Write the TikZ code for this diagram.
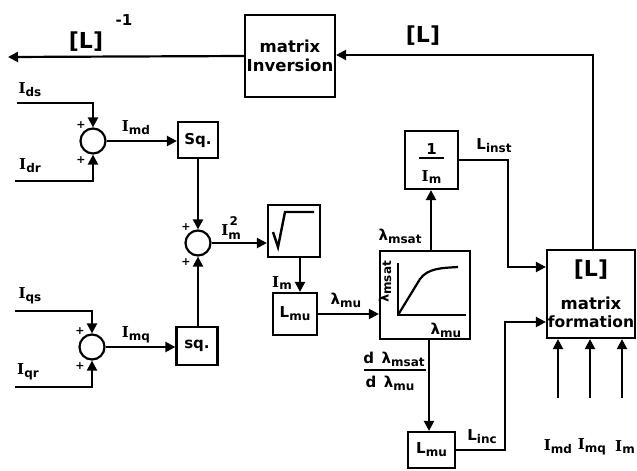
\documentclass[tikz,border=0pt]{standalone}
\usepackage{fontspec}
\setmainfont{DejaVu Sans}
\newfontfamily\serf{DejaVu Serif}
\usetikzlibrary{arrows.meta}
\newcommand\Ic{{\serf\bfseries I}}
\newcommand\sbx[1]{\raisebox{-0.35ex}{\fontsize{12}{12}\selectfont #1}}
\begin{document}
\begin{tikzpicture}[x=1pt,y=-1pt,
  line width=2.2pt,
  blk/.style={draw, line width=2.2pt, rectangle, inner sep=0pt},
  sumc/.style={draw, line width=2.2pt, circle, inner sep=0pt, minimum size=25pt},
  arr/.style={-{Triangle[length=10pt,width=10pt]}},
  lbl/.style={font=\bfseries\fontsize{15}{16}\selectfont, inner sep=0pt},
  big/.style={font=\bfseries\fontsize{22}{24}\selectfont, inner sep=0pt},
  mtx/.style={font=\bfseries\fontsize{16.5}{17}\selectfont, inner sep=0pt},
  pls/.style={font=\bfseries\fontsize{11}{11}\selectfont, inner sep=0pt}]
\useasboundingbox (0,0) rectangle (637,471);

% blocks
\node[blk, minimum width=90pt, minimum height=82pt, align=center, mtx] (inv) at (290,56) {matrix\\[2pt]Inversion};
\node[blk, minimum width=88pt, minimum height=88pt] (form) at (591,294) {};
\node[big] (formL) at (591,270) {[L]};
\node[mtx] (formm) at (591,303) {matrix};
\node[mtx, font=\bfseries\fontsize{15.5}{16}\selectfont] (formf) at (591,322) {formation};
\node[blk, minimum width=40pt, minimum height=36pt, lbl] (sq1) at (198,140) {Sq.};
\node[blk, minimum width=41pt, minimum height=38pt, lbl] (sq2) at (197,346) {sq.};
\node[blk, minimum width=52pt, minimum height=52pt] (sqrt) at (294,231) {};
\draw[line width=2.4pt, line join=miter] (273,232) -- (278,247) -- (285,212) -- (314,212);
\node[blk, minimum width=44pt, minimum height=42pt, lbl] (lmu1) at (295,314) {L\sbx{mu}};
\node[blk, minimum width=90pt, minimum height=88pt] (sat) at (425,295) {};
\node[blk, minimum width=53pt, minimum height=58pt] (inv1m) at (431.5,160) {};
\node[lbl] (one) at (431.5,149) {1};
\draw[line width=1.8pt] (419,158) -- (444,158);
\node[lbl] (imden) at (431.5,177) {\Ic\sbx{m}};
\node[blk, minimum width=47pt, minimum height=36pt, lbl] (lmu2) at (431.5,450) {L\sbx{mu}};

% summing junctions
\node[sumc] (s1) at (93,141) {};
\node[sumc] (s2) at (198,243) {};
\node[sumc] (s3) at (92,347) {};
\foreach \s in {s1,s2,s3}{
  \node[pls] at ([shift={(-12,-16)}]\s) {+};
  \node[pls] at ([shift={(-12,19)}]\s) {+};
}

% saturation curve
\draw[line width=2.2pt] (398,263) -- (398,315) -- (466,315);
\draw[line width=2.2pt] (398,315) -- (420,279) .. controls (428,268) and (442,268) .. (458,267);
\node[lbl, rotate=90, font=\bfseries\fontsize{13}{14}\selectfont] (satv) at (385,282) {λ\sbx{msat}};
\node[lbl] (satu) at (446,330) {λ\sbx{mu}};

% coordinates
\coordinate (lout) at (8,57);
\coordinate (ids) at (17,103);
\coordinate (idr) at (15,181);
\coordinate (iqs) at (15,311);
\coordinate (iqr) at (15,387);
\coordinate (c1) at (593,55);
\coordinate (c2) at (508,160);
\coordinate (c3) at (508,267);
\coordinate (c4) at (505,450);
\coordinate (c5) at (505,322);
\coordinate (f1) at (558,398);
\coordinate (f2) at (590,398);
\coordinate (f3) at (622,398);

% connectors
\draw[arr] (inv.west) -- (lout);
\draw[arr] (form.north -| c1) -- (c1) -- (inv.east |- c1);
\draw[arr] (ids) -| (s1.north);
\draw[arr] (idr) -| (s1.south);
\draw[arr] (iqs) -| (s3.north);
\draw[arr] (iqr) -| (s3.south);
\draw[arr] (s1.east) -- (sq1.west |- s1.east);
\draw[arr] (s3.east) -- (sq2.west |- s3.east);
\draw[arr] (sq1.south) -- (s2.north);
\draw[arr] (sq2.north -| s2) -- (s2.south);
\draw[arr] (s2.east) -- (sqrt.west |- s2.east);
\draw[arr] (sqrt.south -| 300,0) -- (lmu1.north -| 300,0);
\draw[arr] (lmu1.east) -- (sat.west |- lmu1.east);
\draw[arr] (sat.north -| 431,0) -- (inv1m.south -| 431,0);
\draw[arr] (inv1m.east) -- (c2) -- (c3) -- (form.west |- c3);
\draw[arr] (sat.south -| 429,0) -- (lmu2.north -| 429,0);
\draw[arr] (lmu2.east) -- (c4) -- (c5) -- (form.west |- c5);
\draw[arr] (f1) -- (form.south -| f1);
\draw[arr] (f2) -- (form.south -| f2);
\draw[arr] (f3) -- (form.south -| f3);

% labels
\node[big] (linv) at (86,42) {[L]};
\node[lbl] (linvexp) at (124,20) {-1};
\node[big] (lmat) at (423,36) {[L]};
\node[lbl] (tids) at (30,90) {\Ic\sbx{ds}};
\node[lbl] (tidr) at (30,166) {\Ic\sbx{dr}};
\node[lbl] (tiqs) at (30,296) {\Ic\sbx{qs}};
\node[lbl] (tiqr) at (28,372) {\Ic\sbx{qr}};
\node[lbl] (timd) at (136,128) {\Ic\sbx{md}};
\node[lbl] (timq) at (136,335) {\Ic\sbx{mq}};
\node[lbl] (tim2) at (232,228) {\Ic\raisebox{-0.4ex}{\fontsize{12}{12}\selectfont m}\kern-0.75em\raisebox{1.2ex}{\fontsize{12}{12}\selectfont 2}\kern0.3em};
\node[lbl] (tim) at (282,283) {\Ic\sbx{m}};
\node[lbl] (tlmu) at (346,300) {λ\sbx{mu}};
\node[lbl] (tlmsat) at (400,236) {λ\sbx{msat}};
\node[lbl] (tlinst) at (494,146) {L\sbx{inst}};
\node[lbl] (tdn) at (394,359) {d\, λ\sbx{msat}};
\draw[line width=1.8pt] (364,370) -- (426,370);
\node[lbl] (tdd) at (390,383) {d\, λ\sbx{mu}};
\node[lbl] (tlinc) at (482,437) {L\sbx{inc}};
\node[lbl] (tf1) at (558,447) {\Ic\sbx{md}};
\node[lbl] (tf2) at (592,447) {\Ic\sbx{mq}};
\node[lbl] (tf3) at (625,447) {\Ic\sbx{m}};
\end{tikzpicture}
\end{document}
